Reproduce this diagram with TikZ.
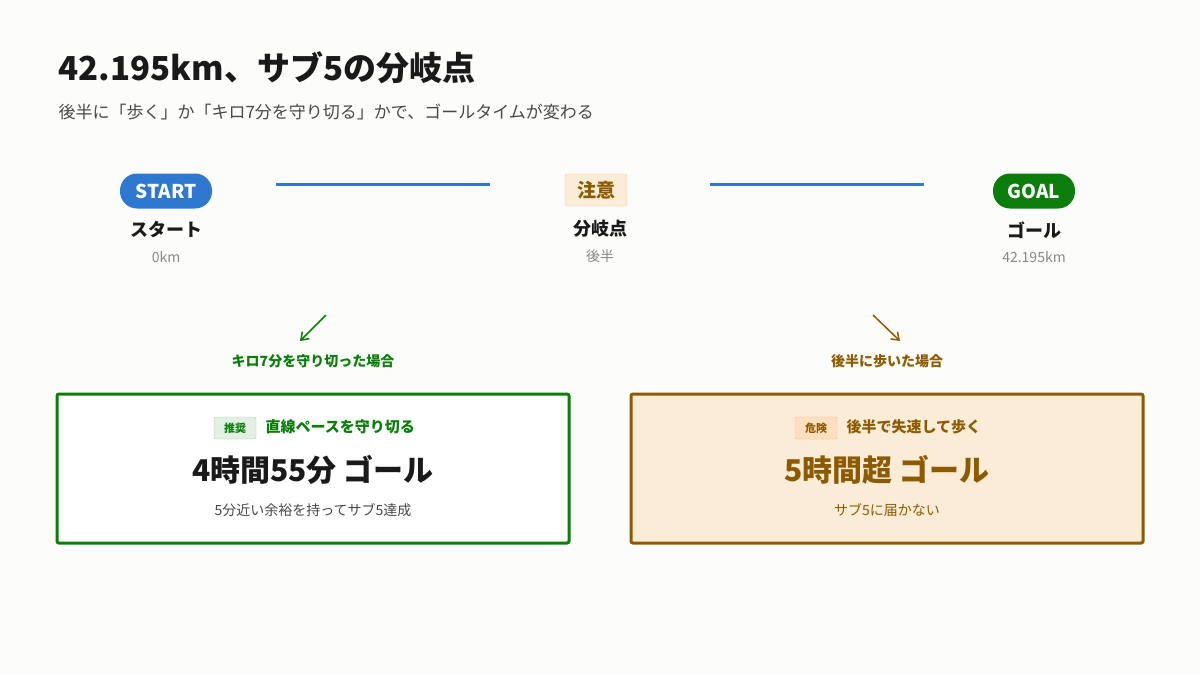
\documentclass[tikz,border=0pt]{standalone}
\usepackage{fontspec}
\setmainfont{Noto Sans CJK JP}
\newfontfamily\cjkb{Noto Sans CJK JP Bold}
\usetikzlibrary{arrows.meta}
\definecolor{bg}{HTML}{FCFCFA}
\definecolor{blu}{HTML}{2F78D0}
\definecolor{grn}{HTML}{0A7D0A}
\definecolor{brn}{HTML}{8C5A00}
\definecolor{cream}{HTML}{FAECD6}
\definecolor{txt}{HTML}{1A1A1A}
\definecolor{gry}{HTML}{888888}
\begin{document}
\begin{tikzpicture}[x=1pt,y=-1pt,
  lbl/.style={font=\fontsize{18}{20}\selectfont\bfseries,text=txt},
  sub/.style={font=\fontsize{14}{16}\selectfont,text=gry},
  conn/.style={line width=3pt,blu},
  note/.style={font=\fontsize{14}{16}\selectfont\bfseries},
  card/.style={line width=3pt,rounded corners=2pt},
  tag/.style={font=\fontsize{11}{12}\selectfont\bfseries,rounded corners=2pt,inner sep=3pt,minimum height=22pt,minimum width=42pt}]
\fill[bg] (0,0) rectangle (1200,675);
\useasboundingbox (0,0) rectangle (1200,675);
\node[anchor=west,font=\fontsize{33}{36}\selectfont\bfseries,text=txt] (title) at (55,68) {42.195km、サブ5の分岐点};
\node[anchor=west,font=\fontsize{17}{20}\selectfont,text=txt!80] (subt) at (55,112) {後半に「歩く」か「キロ7分を守り切る」かで、ゴールタイムが変わる};
% milestones
\node[fill=blu,text=white,rounded corners=17pt,minimum width=92pt,minimum height=35pt,font=\fontsize{19}{20}\selectfont\bfseries] (start) at (166,191) {START};
\node[lbl] (startl) at (166,230) {スタート};
\node[sub] (starts) at (166,257) {0km};
\node[fill=cream,draw=orange!40,text=brn,rounded corners=2pt,minimum width=62pt,minimum height=32pt,font=\fontsize{19}{20}\selectfont\bfseries] (mid) at (596,190) {注意};
\node[lbl] (midl) at (600,229) {分岐点};
\node[sub] (mids) at (600,256) {後半};
\node[fill=grn,text=white,rounded corners=17pt,minimum width=82pt,minimum height=35pt,font=\fontsize{19}{20}\selectfont\bfseries] (goal) at (1034,191) {GOAL};
\node[lbl] (goall) at (1034,230) {ゴール};
\node[sub] (goals) at (1034,257) {42.195km};
\coordinate (l1a) at (276,184); \coordinate (l1b) at (490,184);
\coordinate (l2a) at (710,184); \coordinate (l2b) at (924,184);
\draw[conn] (l1a) -- (l1b);
\draw[conn] (l2a) -- (l2b);
% arrows
\coordinate (a1s) at (326,315); \coordinate (a1e) at (300,341);
\coordinate (a2s) at (873,315); \coordinate (a2e) at (900,341);
\draw[grn,line width=1.5pt,-{Straight Barb[length=7pt,width=10pt]}] (a1s) -- (a1e);
\draw[brn,line width=1.5pt,-{Straight Barb[length=7pt,width=10pt]}] (a2s) -- (a2e);
\node[note,text=grn] (n1) at (313,361) {キロ7分を守り切った場合};
\node[note,text=brn] (n2) at (887,361) {後半に歩いた場合};
% cards
\draw[card,grn,fill=white] (57,394) rectangle (569,543);
\draw[card,brn,fill=cream] (631,394) rectangle (1143,543);
\node[tag,fill=grn!12,draw=grn!35,text=grn] (t1) at (235,428) {推奨};
\node[anchor=west,font=\fontsize{15}{17}\selectfont\bfseries,text=grn] (h1) at (262,427) {直線ペースを守り切る};
\node[font=\fontsize{30}{32}\selectfont\bfseries,text=txt] (b1) at (313,470) {4時間55分 ゴール};
\node[font=\fontsize{14}{16}\selectfont,text=txt!80] (s1) at (313,510) {5分近い余裕を持ってサブ5達成};
\node[tag,fill=orange!25,draw=orange!50,text=brn] (t2) at (816,428) {危険};
\node[anchor=west,font=\fontsize{15}{17}\selectfont\bfseries,text=brn] (h2) at (843,427) {後半で失速して歩く};
\node[font=\fontsize{30}{32}\selectfont\bfseries,text=brn] (b2) at (887,470) {5時間超 ゴール};
\node[font=\fontsize{14}{16}\selectfont,text=brn] (s2) at (887,510) {サブ5に届かない};
\end{tikzpicture}
\end{document}
